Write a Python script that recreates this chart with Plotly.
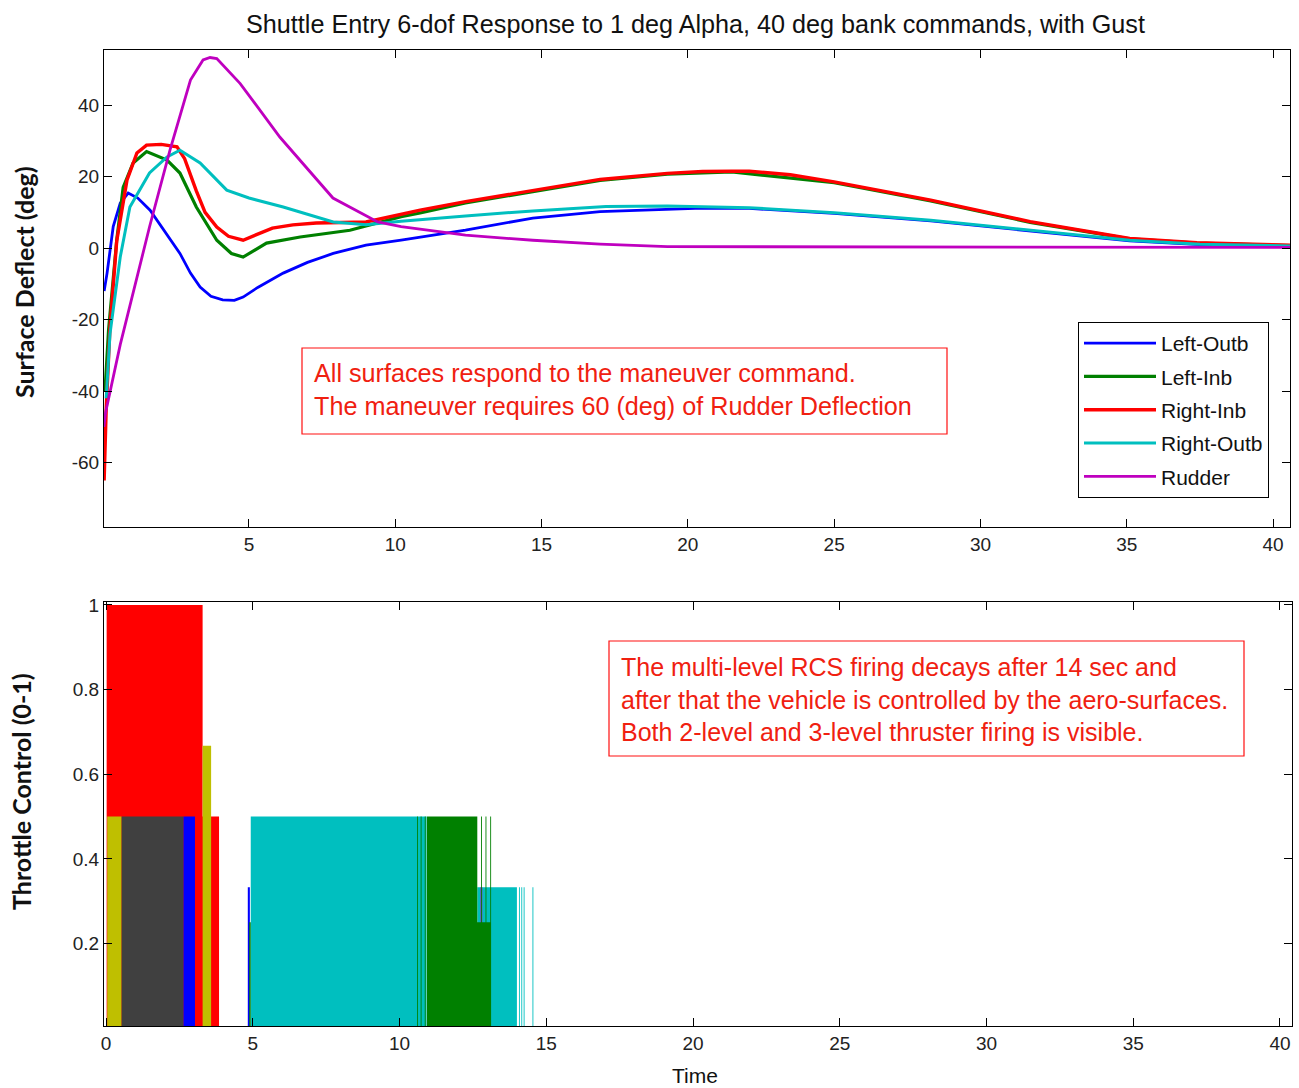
import plotly.graph_objects as go

# ---------------- Top panel data: surface deflections (deg) ----------------
t_left_outb = [0.05, 0.15, 0.36, 0.6, 0.87, 1.2, 1.62, 2.1, 2.64, 3.0, 3.33, 3.7, 4.1, 4.5, 4.8, 5.3,
               6.17, 7.0, 7.88, 9.0, 10.2, 12.4, 14.7, 17.0, 19.0, 20.5, 22.1, 25.0, 28.3, 31.7, 35.1, 37.5, 40.6]
v_left_outb = [-12, -7, 6, 12.6, 15.4, 14, 10.6, 5, -1.5, -7, -10.9, -13.5, -14.5, -14.6, -13.7, -11,
               -7, -4, -1.5, 0.8, 2.2, 5, 8.4, 10.2, 10.8, 11.2, 11.1, 9.7, 7.6, 4.8, 2.0, 1.0, 0.5]

t_left_inb = [0.08, 0.2, 0.48, 0.7, 1.04, 1.5, 2.2, 2.64, 3.2, 3.9, 4.4, 4.8, 5.6, 6.75, 8.45, 10.2,
              10.85, 12.4, 14.7, 17.0, 19.3, 21.5, 25.0, 28.3, 31.7, 35.1, 37.4, 40.6]
v_left_inb = [-40, -23, 2.2, 17, 23.8, 27, 24.6, 21, 11.5, 2.2, -1.5, -2.5, 1.4, 3.1, 5, 8.8,
              9.8, 12.6, 15.8, 18.9, 20.7, 21.3, 18.3, 13.2, 7.2, 2.6, 1.4, 0.7]

t_right_inb = [0.05, 0.12, 0.25, 0.48, 0.83, 1.17, 1.5, 2.0, 2.54, 2.8, 3.2, 3.5, 3.9, 4.3, 4.8, 5.2,
               5.8, 6.5, 7.3, 9.0, 10.2, 10.85, 12.4, 14.7, 17.0, 19.3, 20.5, 21.5, 22.1, 23.5, 25.0,
               28.3, 31.7, 35.1, 37.4, 40.6]
v_right_inb = [-65, -45, -22, 2, 19, 26.6, 28.8, 29, 28.3, 25, 16, 10, 5.9, 3.3, 2.2, 3.5,
               5.6, 6.5, 7, 7.3, 9.5, 10.6, 13, 16.2, 19.2, 20.9, 21.4, 21.5, 21.5, 20.5, 18.5,
               13.4, 7.4, 2.7, 1.5, 0.8]

t_right_outb = [0.12, 0.25, 0.6, 0.93, 1.6, 2.2, 2.64, 3.33, 4.24, 5.0, 6.17, 7.88, 9.0, 10.2, 12.4,
                14.7, 17.2, 19.3, 22.1, 25.0, 28.3, 31.7, 35.1, 37.5, 40.6]
v_right_outb = [-42, -24, -2.5, 11.5, 21, 25.5, 27.4, 23.8, 16.2, 14, 11.5, 7.3, 6.5, 7.5, 9,
                10.4, 11.6, 11.8, 11.3, 9.9, 7.8, 5, 2.2, 1.1, 0.6]

t_rudder = [0.04, 0.1, 0.6, 1.6, 2.3, 3.0, 3.43, 3.67, 3.9, 4.7, 6.06, 7.87, 9.4, 10.2, 12.4,
            14.7, 17.0, 19.3, 40.6]
v_rudder = [-50, -46, -27, 5.9, 27.4, 47, 52.6, 53.3, 53, 46, 31, 14, 7.3, 6, 3.6,
            2.2, 1.1, 0.4, 0.2]

surface_names = ["Left-Outb", "Left-Inb", "Right-Inb", "Right-Outb", "Rudder"]
surface_colors = ["#0000FF", "#008000", "#FF0000", "#00BFBF", "#BF00BF"]
surface_widths = [2.8, 3.2, 3.4, 3.0, 2.8]

# ---------------- Bottom panel data: throttle steps (time, level) ----------------
# step series: level holds from each time until the next time
thr_red_t = [0.02, 3.29, 3.85]
thr_red_v = [1.0, 0.5, 0.0]
thr_yellow_t = [0.04, 0.53, 3.29, 3.58]
thr_yellow_v = [0.5, 0.0, 0.667, 0.0]
thr_gray_t = [0.53, 2.64]
thr_gray_v = [0.5, 0.0]
thr_blue_t = [2.64, 3.03, 4.83, 4.9]
thr_blue_v = [0.5, 0.0, 0.333, 0.0]
thr_cyan_t = [4.93, 10.92, 12.65, 14.0, 14.07, 14.1, 14.15, 14.18, 14.23, 14.26, 14.53, 14.56]
thr_cyan_v = [0.5, 0.0, 0.333, 0.0, 0.333, 0.0, 0.333, 0.0, 0.333, 0.0, 0.333, 0.0]
thr_magenta_t = [12.76, 12.82]
thr_magenta_v = [0.333, 0.0]
thr_green_t = [4.88, 4.93, 10.6, 10.63, 10.72, 10.75, 10.86, 10.89, 10.93, 12.65, 12.68, 12.78,
               12.81, 12.93, 12.96, 13.09, 13.12]
thr_green_v = [0.25, 0.0, 0.5, 0.0, 0.5, 0.0, 0.5, 0.0, 0.5, 0.25, 0.25, 0.5,
               0.25, 0.5, 0.25, 0.5, 0.0]

throttle_series = [
    (thr_red_t, thr_red_v, "#FF0000"),
    (thr_yellow_t, thr_yellow_v, "#BFBF00"),
    (thr_gray_t, thr_gray_v, "#404040"),
    (thr_blue_t, thr_blue_v, "#0000FF"),
    (thr_cyan_t, thr_cyan_v, "#00BFBF"),
    (thr_magenta_t, thr_magenta_v, "#BF00BF"),
    (thr_green_t, thr_green_v, "#008000"),
]

top_xticks = [5, 10, 15, 20, 25, 30, 35, 40]
top_yticks = [-60, -40, -20, 0, 20, 40]
top_yticklabels = ["-60", "-40", "-20", "0", "20", "40"]
bot_xticks = [0, 5, 10, 15, 20, 25, 30, 35, 40]
bot_yticks = [0.2, 0.4, 0.6, 0.8, 1.0]
bot_yticklabels = ["0.2", "0.4", "0.6", "0.8", "1"]

W, H = 1299, 1088
FONT = "Liberation Sans, Arial, sans-serif"
BOLD = "Lato, Open Sans, DejaVu Sans, sans-serif"


def px(x):
    return x / W


def py(y):
    return 1 - y / H


fig = go.Figure()

surf_t = [t_left_outb, t_left_inb, t_right_inb, t_right_outb, t_rudder]
surf_v = [v_left_outb, v_left_inb, v_right_inb, v_right_outb, v_rudder]
for i, name in enumerate(surface_names):
    fig.add_trace(go.Scatter(
        x=surf_t[i], y=surf_v[i], mode="lines", name=name,
        line=dict(color=surface_colors[i], width=surface_widths[i]),
        xaxis="x", yaxis="y", legendgroup=name, showlegend=True,
    ))

for tt, vv, col in throttle_series:
    fig.add_trace(go.Scatter(
        x=tt, y=vv, mode="lines", line=dict(color=col, width=0, shape="hv"),
        fill="tozeroy", fillcolor=col, xaxis="x2", yaxis="y2", showlegend=False,
        hoverinfo="skip",
    ))

axis_common = dict(showline=True, linecolor="black", linewidth=1, mirror="ticks",
                   ticks="inside", ticklen=8, tickcolor="black", showgrid=False,
                   zeroline=False, automargin=False,
                   tickfont=dict(family=FONT, size=19, color="#222"))

fig.update_layout(
    template="none",
    width=W, height=H,
    margin=dict(l=0, r=0, t=0, b=0, pad=0),
    paper_bgcolor="white", plot_bgcolor="white",
    xaxis=dict(domain=[px(104), px(1290)], range=[0.045, 40.58], tickvals=top_xticks,
               anchor="y", **axis_common),
    yaxis=dict(domain=[py(527), py(50)], range=[-78, 55.4], tickvals=top_yticks,
               ticktext=top_yticklabels, anchor="x", **axis_common),
    xaxis2=dict(domain=[px(104), px(1292)], range=[-0.07, 40.41], tickvals=bot_xticks,
                anchor="y2", **axis_common),
    yaxis2=dict(domain=[py(1026), py(602)], range=[0.005, 1.007], tickvals=bot_yticks,
                ticktext=bot_yticklabels, anchor="x2", **axis_common),
    legend=dict(x=px(1078), y=py(322), xanchor="left", yanchor="top",
                bordercolor="black", borderwidth=1, bgcolor="white",
                font=dict(family=FONT, size=21, color="#111"),
                tracegroupgap=3, itemwidth=72),
    showlegend=True,
)

annotations = [
    dict(text="Shuttle Entry 6-dof Response to 1 deg Alpha, 40 deg bank commands, with Gust",
         x=px(695), y=py(24), xref="paper", yref="paper", showarrow=False,
         xanchor="center", yanchor="middle", font=dict(family=FONT, size=25.2, color="#111")),
    dict(text="<b>Surface Deflect (deg)</b>", x=px(24), y=py(282), xref="paper", yref="paper",
         showarrow=False, textangle=-90, xanchor="center", yanchor="middle",
         font=dict(family=BOLD, size=25, color="#111", weight=900)),
    dict(text="<b>Throttle Control (0-1)</b>", x=px(21), y=py(792), xref="paper", yref="paper",
         showarrow=False, textangle=-90, xanchor="center", yanchor="middle",
         font=dict(family=BOLD, size=25, color="#111", weight=900)),
    dict(text="Time", x=px(695), y=py(1075), xref="paper", yref="paper", showarrow=False,
         xanchor="center", yanchor="middle", font=dict(family=FONT, size=21, color="#111")),
    dict(text="All surfaces respond to the maneuver command.<br>The maneuver requires 60 (deg) of Rudder Deflection",
         x=px(312), y=py(389), xref="paper", yref="paper", showarrow=False, align="left",
         xanchor="left", yanchor="middle", font=dict(family=FONT, size=25.2, color="#F02010")),
    dict(text="The multi-level RCS firing decays after 14 sec and<br>after that the vehicle is controlled by the aero-surfaces.<br>Both 2-level and 3-level thruster firing is visible.",
         x=px(619), y=py(699), xref="paper", yref="paper", showarrow=False, align="left",
         xanchor="left", yanchor="middle", font=dict(family=FONT, size=25, color="#F02010")),
]
fig.update_layout(annotations=annotations)

shapes = [
    dict(type="rect", xref="paper", yref="paper", x0=px(302), x1=px(947), y0=py(434), y1=py(348),
         line=dict(color="#FF1010", width=1.2), fillcolor="rgba(0,0,0,0)"),
    dict(type="rect", xref="paper", yref="paper", x0=px(609), x1=px(1244), y0=py(756), y1=py(641),
         line=dict(color="#FF1010", width=1.2), fillcolor="rgba(0,0,0,0)"),
]
fig.update_layout(shapes=shapes)

fig.write_html("out.html")
